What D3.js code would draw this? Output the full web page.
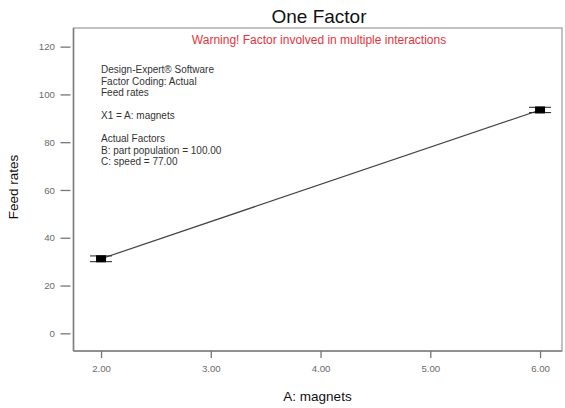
<!DOCTYPE html>
<html>
<head>
<meta charset="utf-8">
<script src="https://cdn.jsdelivr.net/npm/d3@7"></script>
<style>
  body { margin: 0; background: #fff; }
  svg text { font-family: "Liberation Sans", Arial, sans-serif; }
</style>
</head>
<body>
<div id="chart"></div>
<script>
// data
const magnets = [2, 6];
const feedRates = [31.2, 93.5];
const lsdLow = [30.0, 92.4];
const lsdHigh = [32.4, 94.6];
const xTicks = [2, 3, 4, 5, 6];
const yTicks = [0, 20, 40, 60, 80, 100, 120];
const notes = ["Design-Expert\u00ae Software", "Factor Coding: Actual", "Feed rates", "",
               "X1 = A: magnets", "", "Actual Factors", "B: part population = 100.00", "C: speed = 77.00"];

const W = 565, H = 408;
const margin = {top: 28, right: 3, bottom: 57, left: 73.5};
const width = W - margin.left - margin.right;
const height = H - margin.top - margin.bottom;

const svg = d3.select("#chart").append("svg")
    .attr("width", W)
    .attr("height", H);

const g = svg.append("g")
    .attr("transform", `translate(${margin.left},${margin.top})`);

const x = d3.scaleLinear().domain([1.749, 6.2]).range([0, width]);
const y = d3.scaleLinear().domain([-7.4, 127.8]).range([height, 0]);

// frame
g.append("rect")
    .attr("width", width)
    .attr("height", height)
    .attr("fill", "none")
    .attr("stroke", "#9a9a9a")
    .attr("stroke-width", 1.2);
g.append("line").attr("x1", 0).attr("x2", 0).attr("y1", 0).attr("y2", height)
    .attr("stroke", "#808080").attr("stroke-width", 1.6);
g.append("line").attr("x1", 0).attr("x2", width).attr("y1", height).attr("y2", height)
    .attr("stroke", "#808080").attr("stroke-width", 1.6);

// y axis, ticks sit a bit off the frame
const yAxis = g.append("g")
    .attr("transform", "translate(-3,0)")
    .call(d3.axisLeft(y).tickValues(yTicks).tickSize(10).tickPadding(5.5).tickFormat(d3.format("d")));
yAxis.select(".domain").remove();
yAxis.selectAll("line").attr("stroke", "#777").attr("stroke-width", 1.3);
yAxis.selectAll("text").attr("fill", "#6a6a6a").style("font-size", "9.7px");

// x axis
const xAxis = g.append("g")
    .attr("transform", `translate(0,${height})`)
    .call(d3.axisBottom(x).tickValues(xTicks).tickSize(7).tickPadding(7).tickFormat(d3.format(".2f")));
xAxis.select(".domain").remove();
xAxis.selectAll("line").attr("stroke", "#777").attr("stroke-width", 1.3);
xAxis.selectAll("text").attr("fill", "#6a6a6a").style("font-size", "9.7px");

// fitted line
const pts = magnets.map((m, i) => ({m, v: feedRates[i], lo: lsdLow[i], hi: lsdHigh[i]}));
g.append("path")
    .datum(pts)
    .attr("fill", "none")
    .attr("stroke", "#444")
    .attr("stroke-width", 1.2)
    .attr("d", d3.line().x(d => x(d.m)).y(d => y(d.v)));

// LSD bars and design points
const bars = g.selectAll(".pt").data(pts).enter().append("g").attr("class", "pt");
bars.selectAll(".whisk")
    .data(d => [d.lo, d.hi].map(v => ({m: d.m, v})))
    .enter().append("line")
    .attr("x1", d => x(d.m) - 11)
    .attr("x2", d => x(d.m) + 11)
    .attr("y1", d => y(d.v))
    .attr("y2", d => y(d.v))
    .attr("stroke", "#333")
    .attr("stroke-width", 1.1);
bars.append("rect")
    .attr("x", d => x(d.m) - 5)
    .attr("y", d => y(d.v) - 3.5)
    .attr("width", 10)
    .attr("height", 7)
    .attr("fill", "#000");

// titles
svg.append("text")
    .attr("x", 319).attr("y", 23)
    .attr("text-anchor", "middle")
    .style("font-size", "19px")
    .attr("fill", "#111")
    .text("One Factor");
svg.append("text")
    .attr("x", 319).attr("y", 43.5)
    .attr("text-anchor", "middle")
    .style("font-size", "12px")
    .attr("fill", "#e3343c")
    .text("Warning! Factor involved in multiple interactions");

// annotation block
svg.append("g").selectAll("text")
    .data(notes)
    .enter().append("text")
    .attr("x", 101)
    .attr("y", (d, i) => 73.3 + i * 11.5)
    .style("font-size", "10px")
    .attr("fill", "#333")
    .text(d => d);

// axis titles
svg.append("text")
    .attr("x", 317.5).attr("y", 401)
    .attr("text-anchor", "middle")
    .style("font-size", "13.5px")
    .attr("fill", "#111")
    .text("A: magnets");
svg.append("text")
    .attr("transform", "translate(18,187) rotate(-90)")
    .attr("text-anchor", "middle")
    .style("font-size", "13.5px")
    .attr("fill", "#111")
    .text("Feed rates");
</script>
</body>
</html>
